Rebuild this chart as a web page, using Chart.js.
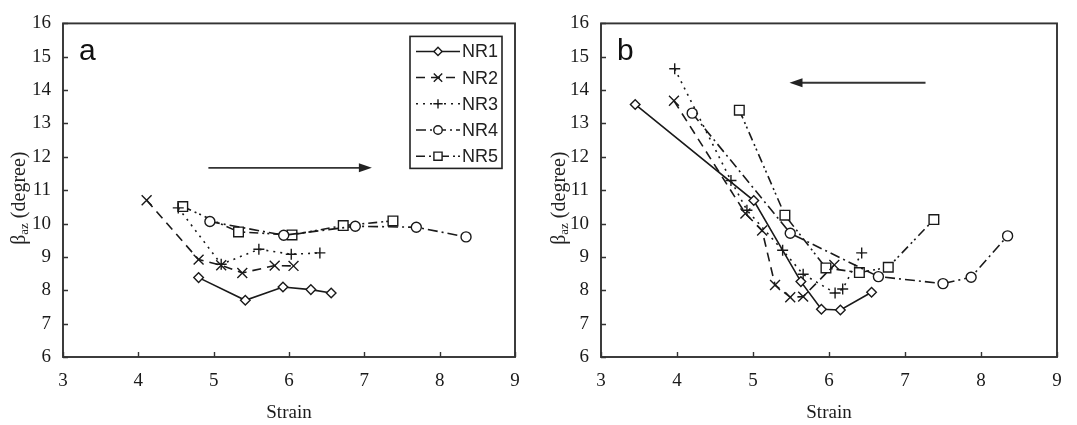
<!DOCTYPE html>
<html><head><meta charset="utf-8">
<script src="https://cdn.jsdelivr.net/npm/chart.js@4.4.1/dist/chart.umd.min.js"></script>
<style>
html,body{margin:0;padding:0;background:#fff;}
#wrap{position:relative;width:1077px;height:425px;overflow:hidden;}
.c{position:absolute;top:0;height:425px;}
#ca{left:0;width:540px;}
#cb{left:540px;width:537px;}
</style></head><body>
<div id="wrap"><div class="c" id="ca"><canvas id="a"></canvas></div><div class="c" id="cb"><canvas id="b"></canvas></div></div>
<script>
// ---------- data ----------
const seriesNames = ['NR1','NR2','NR3','NR4','NR5'];
const xTicks = [3,4,5,6,7,8,9];
const yTicks = [6,7,8,9,10,11,12,13,14,15,16];

// panel a
const a_NR1_x = [4.80,5.42,5.92,6.29,6.56];
const a_NR1_y = [8.38,7.70,8.10,8.02,7.92];
const a_NR2_x = [4.11,4.80,5.10,5.38,5.81,6.06];
const a_NR2_y = [10.70,8.92,8.75,8.52,8.74,8.73];
const a_NR3_x = [4.53,5.10,5.60,6.03,6.41];
const a_NR3_y = [10.47,8.78,9.23,9.08,9.12];
const a_NR4_x = [4.95,5.93,6.88,7.69,8.35];
const a_NR4_y = [10.06,9.65,9.92,9.89,9.60];
const a_NR5_x = [4.59,5.33,6.04,6.72,7.38];
const a_NR5_y = [10.51,9.75,9.66,9.94,10.08];

// panel b
const b_NR1_x = [3.45,5.01,5.63,5.90,6.15,6.56];
const b_NR1_y = [13.57,10.69,8.26,7.43,7.41,7.94];
const b_NR2_x = [3.96,4.90,5.12,5.29,5.49,5.66,6.07];
const b_NR2_y = [13.68,10.30,9.79,8.16,7.79,7.81,8.76];
const b_NR3_x = [3.97,4.71,4.92,5.39,5.66,6.08,6.18,6.43];
const b_NR3_y = [14.64,11.29,10.40,9.20,8.48,7.92,8.04,9.12];
const b_NR4_x = [4.20,5.49,6.65,7.50,7.87,8.35];
const b_NR4_y = [13.31,9.71,8.41,8.20,8.39,9.63];
const b_NR5_x = [4.82,5.42,5.96,6.40,6.78,7.38];
const b_NR5_y = [13.40,10.25,8.67,8.53,8.69,10.12];

// arrows: [xStart, xEnd, y]
const arrowA = [4.93, 7.10, 11.67];
const arrowB = [7.27, 5.48, 14.22];

// ---------- styles ----------
const INK = '#1a1a1a';
const styles = [
  {pointStyle:'rectRot', radius:4.8, dash:[],              fill:'#fff'},
  {pointStyle:'crossRot',radius:7,   dash:[9,6],           fill:'#fff'},
  {pointStyle:'cross',   radius:5.5, dash:[2,5],           fill:'#fff'},
  {pointStyle:'circle',  radius:5,   dash:[10,4,2,4],      fill:'#fff'},
  {pointStyle:'rect',    radius:6.8, dash:[9,4,2,3,2,4],   fill:'#fff'}
];

function pts(xs, ys){ return xs.map((x,i)=>({x:x, y:ys[i]})); }
function makeDatasets(list){
  return list.map((s,i)=>({
    label: seriesNames[i],
    data: pts(s[0], s[1]),
    showLine: true,
    borderColor: INK,
    borderWidth: 1.6,
    borderDash: styles[i].dash,
    tension: 0,
    pointStyle: styles[i].pointStyle,
    pointRadius: styles[i].radius,
    pointHoverRadius: styles[i].radius,
    pointBackgroundColor: styles[i].fill,
    pointBorderColor: INK,
    pointBorderWidth: 1.4
  }));
}

const dsA = makeDatasets([[a_NR1_x,a_NR1_y],[a_NR2_x,a_NR2_y],[a_NR3_x,a_NR3_y],[a_NR4_x,a_NR4_y],[a_NR5_x,a_NR5_y]]);
const dsB = makeDatasets([[b_NR1_x,b_NR1_y],[b_NR2_x,b_NR2_y],[b_NR3_x,b_NR3_y],[b_NR4_x,b_NR4_y],[b_NR5_x,b_NR5_y]]);

const SERIF = '"Liberation Serif","Times New Roman",serif';
const SANS = '"Liberation Sans",Arial,sans-serif';

function drawMarker(ctx, st, x, y){
  ctx.save();
  ctx.fillStyle = st.fill; ctx.strokeStyle = INK; ctx.lineWidth = 1.4; ctx.setLineDash([]);
  if (Chart.helpers && Chart.helpers.drawPoint) {
    Chart.helpers.drawPoint(ctx, {pointStyle: st.pointStyle, radius: st.radius, rotation: 0, borderWidth: 1.4}, x, y);
  }
  ctx.restore();
}

function decorPlugin(panel){
  return {
    id: 'decor'+panel,
    beforeDatasetsDraw(chart){
      const {ctx, chartArea:{left,right,top,bottom}, scales:{x,y}} = chart;
      ctx.save();
      ctx.strokeStyle = '#333'; ctx.lineWidth = 1.4;
      ctx.beginPath();
      xTicks.forEach(v=>{const px=Math.round(x.getPixelForValue(v))+0.5; ctx.moveTo(px,bottom); ctx.lineTo(px,bottom-5);});
      yTicks.forEach(v=>{const py=Math.round(y.getPixelForValue(v))+0.5; ctx.moveTo(left,py); ctx.lineTo(left+5,py);});
      ctx.stroke();
      ctx.restore();
    },
    afterDraw(chart){
      const {ctx, chartArea:{left,right,top,bottom}, scales:{x,y}} = chart;
      ctx.save();
      // frame
      ctx.strokeStyle = '#333'; ctx.lineWidth = 1.9; ctx.setLineDash([]);
      ctx.strokeRect(left, top, right-left, bottom-top);
      // panel letter
      ctx.fillStyle = '#111';
      ctx.font = '30px ' + SANS;
      ctx.textBaseline = 'alphabetic'; ctx.textAlign = 'left';
      ctx.fillText(panel, left + 16, top + 37);
      // arrow
      const ar = panel==='a' ? arrowA : arrowB;
      const x0 = x.getPixelForValue(ar[0]), x1 = x.getPixelForValue(ar[1]), py = y.getPixelForValue(ar[2]);
      const dir = Math.sign(x1-x0);
      ctx.strokeStyle = '#333'; ctx.fillStyle = '#222'; ctx.lineWidth = 1.9;
      ctx.beginPath(); ctx.moveTo(x0, py); ctx.lineTo(x1 - dir*10, py); ctx.stroke();
      ctx.beginPath(); ctx.moveTo(x1, py); ctx.lineTo(x1 - dir*13, py-4.5); ctx.lineTo(x1 - dir*13, py+4.5); ctx.closePath(); ctx.fill();
      // y title with subscript
      ctx.save();
      ctx.translate(20, (top+bottom)/2 + 8);
      ctx.rotate(-Math.PI/2);
      ctx.fillStyle = '#222';
      const big = '20px ' + SERIF, small = '13px ' + SERIF;
      ctx.font = big; const wB = ctx.measureText('\u03B2').width; const wD = ctx.measureText(' (degree)').width;
      ctx.font = small; const wS = ctx.measureText('az').width;
      let sx = -(wB + wS + wD)/2;
      ctx.textBaseline = 'middle';
      ctx.font = big; ctx.fillText('\u03B2', sx, 0); sx += wB;
      ctx.font = small; ctx.fillText('az', sx, 5); sx += wS;
      ctx.font = big; ctx.fillText(' (degree)', sx, 0);
      ctx.restore();
      // legend (panel a only)
      if (panel === 'a') {
        const bx = left + 347, by = top + 13, bw = 92, bh = 132;
        ctx.strokeStyle = '#222'; ctx.lineWidth = 1.6; ctx.setLineDash([]);
        ctx.strokeRect(bx, by, bw, bh);
        ctx.font = '18px ' + SANS; ctx.textBaseline = 'middle'; ctx.textAlign = 'left'; ctx.fillStyle = '#222';
        seriesNames.forEach((n,i)=>{
          const ly = by + 15 + i*26.2;
          ctx.save();
          ctx.strokeStyle = INK; ctx.lineWidth = 1.5; ctx.setLineDash(styles[i].dash);
          ctx.beginPath(); ctx.moveTo(bx+6, ly); ctx.lineTo(bx+50, ly); ctx.stroke();
          ctx.restore();
          drawMarker(ctx, {pointStyle: styles[i].pointStyle, radius: styles[i].radius*0.85, fill: styles[i].fill}, bx+28, ly);
          ctx.fillStyle = '#222';
          ctx.fillText(n, bx+52, ly+1);
        });
      }
      ctx.restore();
    }
  };
}

function makeChart(id, datasets, panel, rightPad, yWidth){
  return new Chart(document.getElementById(id), {
    type: 'scatter',
    data: { datasets: datasets },
    options: {
      responsive: true, maintainAspectRatio: false, animation: false,
      layout: { padding: { top: 19, right: rightPad, left: 0, bottom: 0 } },
      plugins: { legend: { display: false }, tooltip: { enabled: false } },
      scales: {
        x: {
          type: 'linear', min: 3, max: 9,
          afterBuildTicks: (s)=>{ s.ticks = xTicks.map(v=>({value:v})); },
          afterFit: (s)=>{ s.height = 68; },
          grid: { display: false, drawTicks: false },
          border: { display: false },
          ticks: { color: '#1a1a1a', font: { family: SERIF, size: 19 }, padding: 13, maxRotation: 0 },
          title: { display: true, text: 'Strain', color: '#1a1a1a', font: { family: SERIF, size: 19 }, padding: { top: 0, bottom: 1 } }
        },
        y: {
          type: 'linear', min: 6, max: 16,
          afterBuildTicks: (s)=>{ s.ticks = yTicks.map(v=>({value:v})); },
          afterFit: (s)=>{ s.width = yWidth; },
          grid: { display: false, drawTicks: false },
          border: { display: false },
          ticks: { color: '#1a1a1a', font: { family: SERIF, size: 19 }, padding: 12 }
        }
      }
    },
    plugins: [decorPlugin(panel)]
  });
}

makeChart('a', dsA, 'a', 25, 63);
makeChart('b', dsB, 'b', 20, 61);
</script>
</body></html>
